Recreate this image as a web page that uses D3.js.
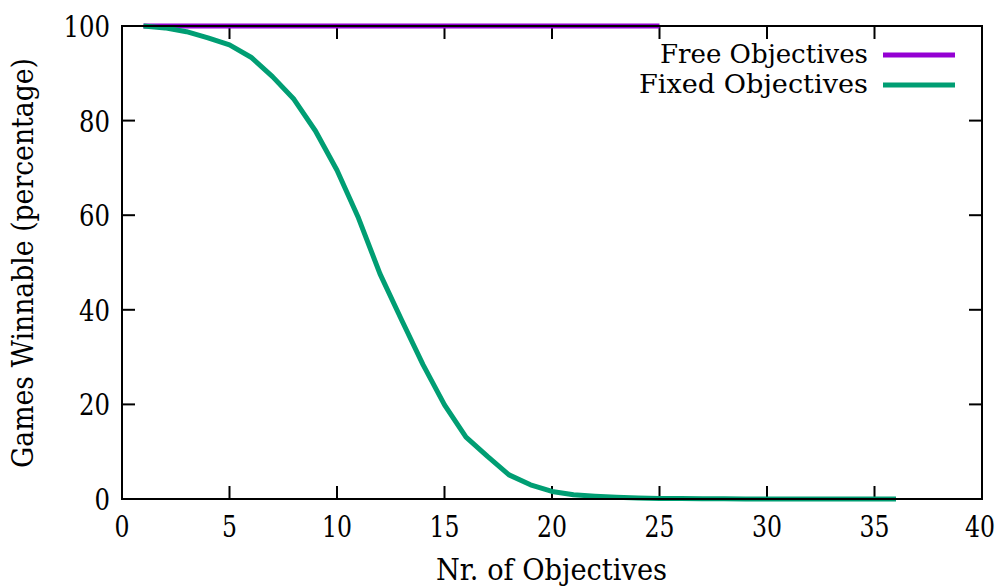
<!DOCTYPE html>
<html>
<head>
<meta charset="utf-8">
<script src="https://cdn.jsdelivr.net/npm/d3@7"></script>
<style>
  html, body { margin: 0; padding: 0; background: #fff; }
  svg { display: block; }
  text { font-family: "DejaVu Serif", "Liberation Serif", serif; fill: #000; }
</style>
</head>
<body>
<svg id="chart" width="1001" height="588"></svg>
<script>
// ---- data ----
const freeX = [1,2,3,4,5,6,7,8,9,10,11,12,13,14,15,16,17,18,19,20,21,22,23,24,25];
const freeY = [100,100,100,100,100,100,100,100,100,100,100,100,100,100,100,100,100,100,100,100,100,100,100,100,100];
const fixedX = [1,2,3,4,5,6,7,8,9,10,11,12,13,14,15,16,17,18,19,20,21,22,23,24,25,26,27,28,29,30,31,32,33,34,35,36];
const fixedY = [100,99.6,98.8,97.5,96.0,93.4,89.3,84.5,77.8,69.5,59.4,47.6,37.9,28.4,19.9,13.1,9.0,5.1,3.0,1.6,0.9,0.6,0.35,0.2,0.12,0.08,0.05,0.03,0.02,0.01,0.01,0,0,0,0,0];
const xTicks = [0,5,10,15,20,25,30,35,40];
const yTicks = [0,20,40,60,80,100];
const seriesNames = ["Free Objectives", "Fixed Objectives"];
const seriesColors = ["#9400d3", "#009e73"];
const xTitle = "Nr. of Objectives";
const yTitle = "Games Winnable (percentage)";

// ---- layout ----
const svg = d3.select("#chart");
const L = 122, R = 982, T = 26, B = 499;
const x = d3.scaleLinear().domain([0, 40]).range([L, R]);
const y = d3.scaleLinear().domain([0, 100]).range([B, T]);
const tickLen = 13;
const fs = 29;

// ticks (inward, mirrored)
const tg = svg.append("g").attr("stroke", "#000").attr("stroke-width", 2);
xTicks.forEach(v => {
  if (v === 0 || v === 40) return;
  tg.append("line").attr("x1", x(v)).attr("x2", x(v)).attr("y1", B).attr("y2", B - tickLen);
  tg.append("line").attr("x1", x(v)).attr("x2", x(v)).attr("y1", T).attr("y2", T + tickLen);
});
yTicks.forEach(v => {
  if (v === 0 || v === 100) return;
  tg.append("line").attr("y1", y(v)).attr("y2", y(v)).attr("x1", L).attr("x2", L + tickLen);
  tg.append("line").attr("y1", y(v)).attr("y2", y(v)).attr("x1", R).attr("x2", R - tickLen);
});
tg.append("line").attr("x1", L).attr("x2", L + tickLen).attr("y1", T).attr("y2", T);
tg.append("line").attr("x1", L).attr("x2", L + tickLen).attr("y1", B).attr("y2", B);

// tick labels (condensed a bit to match the reference digit width)
xTicks.forEach(v => {
  const s = String(v);
  const shift = v === 40 ? -2 : 0;
  svg.append("text").attr("x", x(v) + shift).attr("y", 537).attr("text-anchor", "middle")
    .attr("font-size", fs).attr("textLength", 15 * s.length).attr("lengthAdjust", "spacingAndGlyphs").text(s);
});
yTicks.forEach(v => {
  const s = String(v);
  svg.append("text").attr("x", 110).attr("y", y(v) + 11).attr("text-anchor", "end")
    .attr("font-size", fs).attr("textLength", 15.5 * s.length).attr("lengthAdjust", "spacingAndGlyphs").text(s);
});

// axis titles
svg.append("text").attr("x", 551.5).attr("y", 580).attr("text-anchor", "middle")
  .attr("font-size", fs).attr("textLength", 231).attr("lengthAdjust", "spacingAndGlyphs").text(xTitle);
svg.append("text").attr("transform", "translate(33,263) rotate(-90)").attr("text-anchor", "middle")
  .attr("font-size", fs).attr("textLength", 410).attr("lengthAdjust", "spacingAndGlyphs").text(yTitle);

// lines
const line = d3.line().x(d => x(d[0])).y(d => y(d[1]));
const series = [d3.zip(freeX, freeY), d3.zip(fixedX, fixedY)];
series.forEach((s, i) => {
  svg.append("path").datum(s).attr("d", line).attr("fill", "none")
    .attr("stroke", seriesColors[i]).attr("stroke-width", 5).attr("stroke-linejoin", "round");
});

// border
svg.append("rect").attr("x", L).attr("y", T).attr("width", R - L).attr("height", B - T)
  .attr("fill", "none").attr("stroke", "#000").attr("stroke-width", 2);

// legend
const legY = [55, 85];
const legW = [208, 229];
seriesNames.forEach((n, i) => {
  svg.append("text").attr("x", 868).attr("y", legY[i] + 8).attr("text-anchor", "end")
    .attr("font-size", 26).attr("textLength", legW[i]).attr("lengthAdjust", "spacingAndGlyphs").text(n);
  svg.append("line").attr("x1", 883).attr("x2", 955).attr("y1", legY[i]).attr("y2", legY[i])
    .attr("stroke", seriesColors[i]).attr("stroke-width", 5);
});
</script>
</body>
</html>
